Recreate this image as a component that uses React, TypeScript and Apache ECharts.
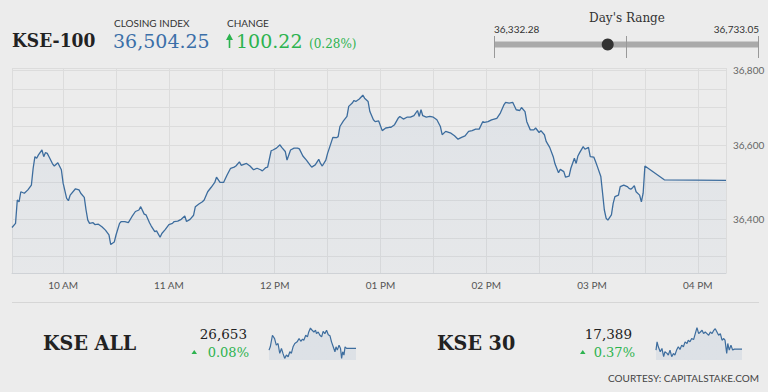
import React, { useEffect, useRef } from 'react';
import * as echarts from 'echarts';

// ---- KSE-100 intraday (time, index) ----
const times = [
  '09:31','09:33','09:34','09:35','09:36','09:38','09:40','09:42','09:43','09:44','09:45','09:46','09:48','09:49','09:50','09:51','09:52','09:54','09:55','09:57','09:59',
  '10:00','10:02','10:03','10:04','10:07','10:09','10:10','10:12','10:13','10:14','10:15','10:17','10:18','10:20','10:22','10:24','10:26','10:27','10:29',
  '10:30','10:32','10:33','10:35','10:37','10:39','10:41','10:43','10:44','10:46','10:47','10:49','10:50','10:52','10:53','10:55','10:56','10:58',
  '11:00','11:02','11:03','11:05','11:07','11:09','11:10','11:12','11:14','11:15','11:17','11:19','11:20','11:22','11:24','11:26','11:27','11:29',
  '11:31','11:33','11:35','11:37','11:38','11:40','11:41','11:44','11:46','11:48','11:50','11:52','11:53','11:55','11:56','11:58','11:59',
  '12:01','12:03','12:04','12:06','12:07','12:09','12:11','12:13','12:14','12:16','12:18','12:20','12:21','12:23','12:25','12:26','12:27','12:29','12:30','12:31',
  '12:33','12:35','12:36','12:37','12:39','12:41','12:42','12:44','12:45','12:46','12:48','12:50','12:51','12:53','12:54','12:56','12:57','12:59',
  '13:01','13:03','13:05','13:06','13:08','13:10','13:11','13:13','13:15','13:17','13:19','13:21','13:22','13:23','13:24','13:26','13:28','13:30','13:32','13:34','13:35',
  '13:37','13:40','13:42','13:44','13:46','13:48','13:50','13:52','13:54','13:56','13:58','13:59','14:01','14:03','14:06','14:08',
  '14:10','14:11','14:13','14:15','14:17','14:19','14:20','14:22','14:23','14:25','14:27','14:28','14:30','14:31','14:33','14:34','14:36','14:38','14:39','14:41','14:42','14:44','14:45','14:47','14:48',
  '14:50','14:51','14:52','14:53','14:55','14:56','14:58','14:59','15:01','15:02','15:03','15:05','15:06','15:07','15:08','15:09',
  '15:11','15:12','15:13','15:15','15:16','15:18','15:20','15:21','15:22','15:23','15:24','15:25','15:27','15:28','15:29','15:30',
  '15:41','16:16',
];
const values = [
  36378,36389,36452,36447,36474,36470,36479,36492,36537,36568,36564,36573,36586,36568,36579,36577,36568,36549,36543,36552,36533,
  36497,36456,36450,36465,36482,36479,36470,36459,36425,36398,36389,36391,36386,36387,36380,36371,36358,36332.28,36339,
  36358,36389,36394,36394,36391,36407,36421,36425,36434,36414,36412,36391,36382,36367,36369,36352,36362,36373,
  36386,36389,36394,36395,36400,36409,36394,36400,36411,36434,36441,36447,36452,36474,36486,36499,36513,36499,
  36499,36519,36537,36540,36543,36554,36545,36550,36543,36533,36537,36533,36530,36539,36540,36584,36586,
  36591,36600,36593,36582,36559,36586,36591,36591,36589,36570,36559,36546,36540,36546,36561,36550,36543,36559,36577,36591,
  36620,36619,36622,36649,36664,36676,36703,36712,36719,36716,36723,36733.05,36725,36716,36689,36667,36662,36664,
  36638,36645,36647,36647,36654,36671,36676,36669,36674,36674,36678,36692,36676,36694,36678,36674,36676,36674,36667,36649,36627,
  36636,36631,36624,36615,36620,36624,36636,36638,36642,36642,36662,36660,36662,36667,36671,36685,
  36707,36714,36712,36714,36694,36692,36700,36689,36662,36640,36640,36645,36633,36638,36627,36609,36593,36568,36549,36525,36534,36528,36513,36516,36537,
  36564,36550,36570,36579,36595,36588,36593,36568,36567,36555,36542,36515,36470,36425,36403,36398,
  36412,36443,36461,36465,36488,36492,36488,36483,36481,36485,36490,36474,36465,36447,36470,36543,
  36506,36504.25,
];

// axis ticks
const hourTickTimes = ['10:00','11:00','12:00','13:00','14:00','15:00','16:00'];
const hourTickLabels = ['10 AM','11 AM','12 PM','01 PM','02 PM','03 PM','04 PM'];
const yTickLabels = ['36,400','36,600','36,800'];
const yTickValues = [36400, 36600, 36800];

// header figures
const closingIndex = 36504.25;
const changeValue = 100.22;
const changePct = 0.28;
const dayLow = 36332.28;
const dayHigh = 36733.05;

// KSE ALL sparkline
const kseAllTimes = ['09:31','09:37','09:47','09:57','10:05','10:13','10:21','10:29','10:36','10:44','10:52','11:00','11:08','11:15','11:23','11:31','11:42','11:51','11:59','12:07','12:13','12:22','12:30','12:36','12:44','12:52','13:00','13:08','13:12','13:20','13:28','13:36','13:43','13:51','13:59','14:07','14:15','14:22','14:30','14:38','14:43','14:49','14:57','15:04','15:09','15:14','15:20','15:25','15:32','15:40','16:16'];
const kseAllValues = [26650,26656,26677,26671,26659,26662,26644,26653,26644,26635,26641,26638,26647,26644,26656,26662,26665,26671,26666,26670,26668,26677,26674,26683,26690,26686,26683,26686,26680,26683,26677,26674,26684,26680,26686,26678,26676,26665,26656,26647,26656,26650,26659,26653,26635,26647,26641,26656,26653,26653,26653];
const kseAllLast = '26,653';
const kseAllPct = '0.08%';

// KSE 30 sparkline
const kse30Times = ['09:31','09:36','09:42','09:51','09:59','10:07','10:13','10:23','10:29','10:37','10:45','10:53','11:00','11:08','11:16','11:24','11:32','11:40','11:48','11:57','12:03','12:11','12:19','12:28','12:36','12:44','12:52','13:00','13:08','13:15','13:23','13:31','13:39','13:47','13:55','14:03','14:10','14:18','14:26','14:34','14:42','14:50','14:56','15:04','15:09','15:16','15:24','15:32','15:40','16:16'];
const kse30Values = [17386,17411,17396,17381,17391,17366,17381,17376,17371,17386,17366,17376,17371,17386,17396,17388,17401,17396,17411,17406,17416,17411,17421,17418,17436,17454,17436,17441,17446,17436,17441,17436,17431,17441,17436,17446,17451,17441,17431,17436,17416,17421,17416,17376,17406,17386,17401,17386,17389,17389];
const kse30Last = '17,389';
const kse30Pct = '0.37%';

const toMin = (t: string) => {
  const [h, m] = t.split(':').map(Number);
  return h * 60 + m;
};
const fmt2 = (v: number) => v.toLocaleString('en-US', { minimumFractionDigits: 2, maximumFractionDigits: 2 });

const SERIF = '"DejaVu Serif"';
const SANS = 'Lato';
const GREEN = '#2cb34f';

function txt(text: string, x: number, y: number, font: string, fill: string, align = 'left', extra: any = {}) {
  return {
    type: 'text', x, y, silent: true, ...extra,
    style: { text, fill, font, align, textAlign: align, verticalAlign: 'middle', textVerticalAlign: 'middle' },
  };
}

export default function App() {
  const ref = useRef<HTMLDivElement>(null);
  useEffect(() => {
    if (!ref.current) return;
    const chart = echarts.init(ref.current, null, { renderer: 'svg' });
    const hourMins = hourTickTimes.map(toMin);
    const dotX = 494 + ((closingIndex - dayLow) / (dayHigh - dayLow)) * 265;
    const area = (a1: number, a2: number) => ({
      origin: 'start',
      color: new echarts.graphic.LinearGradient(0, 0, 0, 1, [
        { offset: 0, color: `rgba(70,115,170,${a1})` },
        { offset: 1, color: `rgba(70,115,170,${a2})` },
      ]),
    });
    const option: any = {
      animation: false,
      backgroundColor: '#ececec',
      grid: [
        { left: 12, right: 42, top: 68, bottom: 119 },
        { left: 269, top: 327, width: 87, height: 33 },
        { left: 656, top: 327, width: 86, height: 33 },
      ],
      xAxis: [
        {
          gridIndex: 0, type: 'value', min: toMin('09:31'), max: toMin('16:16'),
          minInterval: 30, maxInterval: 30, splitNumber: 14,
          axisLine: { show: true, lineStyle: { color: '#cfd2d6', width: 1 } },
          axisTick: { show: false },
          axisLabel: {
            color: '#555', fontSize: 10, fontFamily: SANS, margin: 7,
            formatter: (v: number) => {
              const i = hourMins.indexOf(v);
              return i >= 0 ? hourTickLabels[i] : '';
            },
          },
          splitLine: { show: true, lineStyle: { color: '#dcdcdc', width: 1 } },
        },
        { gridIndex: 1, type: 'value', min: toMin('09:31'), max: toMin('16:16'), show: false },
        { gridIndex: 2, type: 'value', min: toMin('09:31'), max: toMin('16:16'), show: false },
      ],
      yAxis: [
        {
          gridIndex: 0, type: 'value', position: 'right', min: 36256, max: 36806,
          minInterval: 50, maxInterval: 50, splitNumber: 11,
          axisLine: { show: false }, axisTick: { show: false },
          axisLabel: {
            color: '#666', fontSize: 10, fontFamily: SANS, margin: 7,
            formatter: (v: number) => {
              const i = yTickValues.indexOf(v);
              return i >= 0 ? yTickLabels[i] : '';
            },
          },
          splitLine: { show: true, lineStyle: { color: '#dcdcdc', width: 1 } },
        },
        { gridIndex: 1, type: 'value', min: 26632, max: 26692, show: false },
        { gridIndex: 2, type: 'value', min: 17356, max: 17456, show: false },
      ],
      series: [
        {
          type: 'line', xAxisIndex: 0, yAxisIndex: 0, silent: true,
          data: times.map((t, i) => [toMin(t), values[i]]),
          showSymbol: false, symbol: 'none',
          lineStyle: { color: '#3d6d9e', width: 1.3 },
          areaStyle: area(0.11, 0.05),
        },
        {
          type: 'line', xAxisIndex: 1, yAxisIndex: 1, silent: true,
          data: kseAllTimes.map((t, i) => [toMin(t), kseAllValues[i]]),
          showSymbol: false, symbol: 'none',
          lineStyle: { color: '#3d6d9e', width: 1.2 },
          areaStyle: area(0.13, 0.13),
        },
        {
          type: 'line', xAxisIndex: 2, yAxisIndex: 2, silent: true,
          data: kse30Times.map((t, i) => [toMin(t), kse30Values[i]]),
          showSymbol: false, symbol: 'none',
          lineStyle: { color: '#3d6d9e', width: 1.2 },
          areaStyle: area(0.13, 0.13),
        },
      ],
      graphic: [
        // header left
        txt('KSE-100', 12, 41, `bold 18px ${SERIF}`, '#222', 'left', { scaleX: 0.95 }),
        txt('CLOSING INDEX', 114, 23, `10px ${SANS}`, '#333'),
        txt(fmt2(closingIndex), 113, 41, `19px ${SERIF}`, '#3b6fa8'),
        txt('CHANGE', 227, 23, `10px ${SANS}`, '#333'),
        { type: 'line', silent: true, shape: { x1: 229.5, y1: 36, x2: 229.5, y2: 48 }, style: { stroke: GREEN, lineWidth: 1.6 } },
        { type: 'polygon', silent: true, shape: { points: [[226, 40], [229.5, 33.5], [233, 40]] }, style: { fill: GREEN } },
        txt(fmt2(changeValue), 236, 41, `19px ${SERIF}`, GREEN),
        txt(`(${changePct.toFixed(2)}%)`, 309, 44, `12px ${SERIF}`, GREEN),
        // day's range
        txt("Day's Range", 627, 18, `12px ${SERIF}`, '#333', 'center'),
        txt(fmt2(dayLow), 494, 29, `10px ${SANS}`, '#333'),
        txt(fmt2(dayHigh), 759, 29, `10px ${SANS}`, '#333', 'right'),
        { type: 'rect', silent: true, shape: { x: 494, y: 41.5, width: 265, height: 6 }, style: { fill: '#aaaaaa' } },
        { type: 'line', silent: true, shape: { x1: 494.5, y1: 36, x2: 494.5, y2: 58 }, style: { stroke: '#999', lineWidth: 1 } },
        { type: 'line', silent: true, shape: { x1: 626.5, y1: 36, x2: 626.5, y2: 58 }, style: { stroke: '#999', lineWidth: 1 } },
        { type: 'line', silent: true, shape: { x1: 758.5, y1: 36, x2: 758.5, y2: 58 }, style: { stroke: '#999', lineWidth: 1 } },
        { type: 'circle', silent: true, shape: { cx: dotX, cy: 44.5, r: 6 }, style: { fill: '#333' } },
        // separator
        { type: 'line', silent: true, shape: { x1: 12, y1: 302.5, x2: 759, y2: 302.5 }, style: { stroke: '#d6d6d6', lineWidth: 1 } },
        // KSE ALL
        txt('KSE ALL', 43, 343, `bold 21px ${SERIF}`, '#222', 'left', { scaleX: 0.91 }),
        txt(kseAllLast, 247, 334, `13.5px ${SERIF}`, '#222', 'right'),
        { type: 'polygon', silent: true, shape: { points: [[191.5, 354], [197, 354], [194.25, 350]] }, style: { fill: GREEN } },
        txt(kseAllPct, 249, 352, `13px ${SERIF}`, GREEN, 'right'),
        // KSE 30
        txt('KSE 30', 437, 343, `bold 21px ${SERIF}`, '#222', 'left', { scaleX: 0.91 }),
        txt(kse30Last, 632, 334, `13.5px ${SERIF}`, '#222', 'right'),
        { type: 'polygon', silent: true, shape: { points: [[580, 354], [585.5, 354], [582.75, 350]] }, style: { fill: GREEN } },
        txt(kse30Pct, 635, 352, `13px ${SERIF}`, GREEN, 'right'),
        // courtesy
        txt('COURTESY: CAPITALSTAKE.COM', 759, 378, `10px ${SANS}`, '#444', 'right'),
      ],
    };
    chart.setOption(option);
    return () => chart.dispose();
  }, []);
  return (
    <div
      ref={ref}
      style={{ position: 'fixed', left: 0, top: 0, width: 768, height: 392 }}
    />
  );
}
